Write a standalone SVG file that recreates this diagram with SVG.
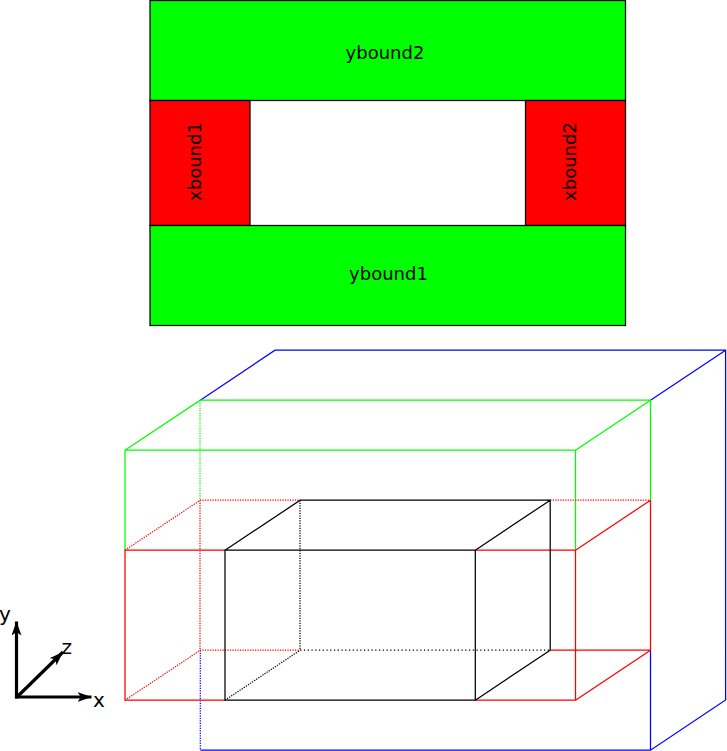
<svg xmlns="http://www.w3.org/2000/svg" width="727" height="751" viewBox="0 0 727 751">
<style>
text{font-family:"DejaVu Sans",sans-serif;font-size:18px;fill:#000}
.m{text-anchor:middle}
.ax{font-size:20px}
rect{stroke:#000;stroke-width:1.25}
.g{fill:#0f0}.r{fill:#f00}
#connectors path{fill:none;stroke-width:1.25}
.blue{stroke:#00f}.green{stroke:#0f0}.red{stroke:#f00}.black{stroke:#000}
.dot{stroke-dasharray:1.25 1.25}
.dot2{stroke-dasharray:1.25 2.5}
.axis{stroke:#000;stroke-width:3.2;fill:none;marker-end:url(#ah)}
</style>
<defs><marker id="ah" markerUnits="userSpaceOnUse" markerWidth="16" markerHeight="12" refX="14" refY="5" orient="auto"><path d="M0 0L14 5L0 10L3.5 5Z" fill="#000"/></marker></defs>
<rect width="727" height="751" fill="#fff" style="stroke:none"/>
<g id="ybound2"><rect class="g" x="150" y="0.5" width="475.5" height="100"/><text class="m" x="385" y="59">ybound2</text></g>
<g id="xbound1"><rect class="r" x="150" y="100.5" width="100" height="125"/><text class="m" transform="translate(200.5,161.5) rotate(-90)">xbound1</text></g>
<g id="xbound2"><rect class="r" x="525.5" y="100.5" width="100" height="125"/><text class="m" transform="translate(575.5,161.5) rotate(-90)">xbound2</text></g>
<g id="ybound1"><rect class="g" x="150" y="225.5" width="475.5" height="100"/><text class="m" x="388.5" y="280">ybound1</text></g>
<g id="connectors">
<path class="blue" d="M200.3 400.2L275 350.2H725.6V700L650.5 750.2H200.3M650.5 750.2V650.2M725.6 350.2L650.5 400.2"/>
<path class="blue dot" d="M200.3 650.2V750.2"/>
<path class="green" d="M125 550.2V450.2H575.5V550.2M125 450.2L200.3 400.2H650.5V500.2M650.5 400.2L575.5 450.2"/>
<path class="green dot" d="M200 400.2V500.2"/>
<path class="red" d="M225 550.2H125V700.2H225M475.3 550.2H575.5V700.2H475.3M650.5 500.2L575.5 550.2M650.5 500.2V650.2H550.2M650.5 650.2L575.5 700.2"/>
<path class="red dot" d="M125 550.2L200.3 500.2H300.2M550.2 500.2H650.5M200 500.2V650.2M125 700.2L200.3 650.2H300.2"/>
<path class="black" d="M225 550.2H475.3V700.2H225ZM225 550.2L300.2 500.2H550.2V650.2M475.3 550.2L550.2 500.2M475.3 700.2L550.2 650.2"/>
<path class="black dot" d="M300 500.2V650.2M225 700.2L300.2 650.2"/>
<path class="black dot2" d="M300.2 650.2H550.2"/>
</g>
<g id="axes">
<line class="axis" x1="16.5" y1="698.5" x2="16.5" y2="621.5"/>
<line class="axis" x1="15" y1="697" x2="91.5" y2="697"/>
<line class="axis" x1="17" y1="697" x2="63" y2="652"/>
<text class="ax" x="-1" y="621">y</text><text class="ax" x="93" y="707">x</text><text class="ax" x="61.5" y="654">z</text>
</g>
</svg>
